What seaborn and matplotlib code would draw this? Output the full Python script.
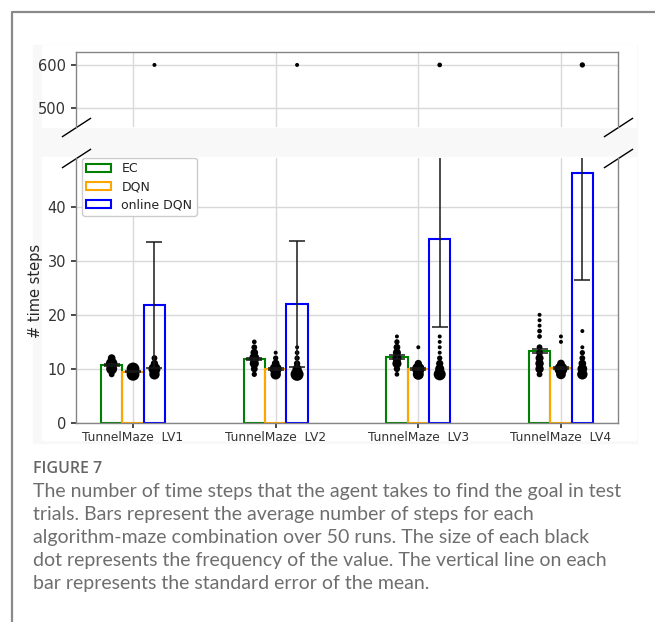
import matplotlib
matplotlib.use("Agg")
import matplotlib.pyplot as plt
from matplotlib.patches import Patch, Rectangle
from matplotlib.lines import Line2D
import numpy as np
import pandas as pd
import seaborn as sns

# --- data ---
mazes = ["TunnelMaze  LV1", "TunnelMaze  LV2", "TunnelMaze  LV3", "TunnelMaze  LV4"]
algorithms = ["EC", "DQN", "online DQN"]
algo_colors = ["green", "orange", "blue"]

# average steps (bar heights) and standard error of the mean
ec_mean = [10.7, 11.9, 12.2, 13.3]
dqn_mean = [9.5, 10.0, 10.0, 10.1]
online_mean = [21.8, 22.0, 34.0, 46.3]
ec_sem = [0.2, 0.2, 0.3, 0.35]
dqn_sem = [0.1, 0.15, 0.15, 0.2]
online_sem = [11.7, 11.7, 16.3, 19.8]

# observed step counts per run (value -> number of runs out of 50)
ec_values = [[9, 10, 11, 12],
             [9, 10, 11, 12, 13, 14, 15],
             [9, 10, 11, 12, 13, 14, 15, 16],
             [9, 10, 11, 12, 13, 14, 16, 17, 18, 19, 20]]
ec_counts = [[4, 18, 20, 8],
             [3, 6, 12, 15, 8, 4, 2],
             [2, 5, 12, 12, 9, 6, 3, 1],
             [4, 10, 10, 9, 6, 4, 2, 2, 1, 1, 1]]
dqn_values = [[9, 10],
              [9, 10, 11, 12, 13],
              [9, 10, 11, 14],
              [9, 10, 11, 15, 16]]
dqn_counts = [[25, 25],
              [16, 22, 8, 3, 1],
              [18, 24, 7, 1],
              [14, 26, 8, 1, 1]]
online_values = [[9, 10, 11, 12, 600],
                 [9, 10, 11, 12, 13, 14, 600],
                 [9, 10, 11, 12, 13, 14, 15, 16, 600],
                 [9, 10, 11, 12, 13, 14, 17, 600]]
online_counts = [[16, 22, 7, 4, 1],
                 [26, 12, 5, 3, 2, 1, 1],
                 [22, 12, 7, 3, 1, 1, 1, 1, 2],
                 [16, 14, 8, 4, 3, 1, 1, 3]]

caption_lines = [
    "The number of time steps that the agent takes to find the goal in test",
    "trials. Bars represent the average number of steps for each",
    "algorithm-maze combination over 50 runs. The size of each black",
    "dot represents the frequency of the value. The vertical line on each",
    "bar represents the standard error of the mean.",
]


def main():
    sns.set_theme(style="whitegrid", rc={
        "axes.edgecolor": "#858585",
        "axes.linewidth": 1.0,
        "grid.color": "#d9d9d9",
        "grid.linewidth": 1.0,
        "xtick.bottom": True,
        "ytick.left": True,
        "xtick.color": "#333333",
        "ytick.color": "#333333",
        "xtick.major.size": 3.5,
        "ytick.major.size": 3.5,
        "text.color": "#222222",
    })
    plt.rcParams["font.family"] = ["DejaVu Sans"]

    W, H = 655, 622
    fig = plt.figure(figsize=(W / 100, H / 100), dpi=100)
    fig.patch.set_facecolor("white")

    # light grey backdrop of the pasted chart, white panel areas
    fig.patches.append(Rectangle((33 / W, 1 - 443 / H), 604 / W, 398 / H,
                                 transform=fig.transFigure, color="#f8f8f8", zorder=-3))
    fig.patches.append(Rectangle((42 / W, 1 - 127 / H), 594 / W, 82 / H,
                                 transform=fig.transFigure, color="white", zorder=-2))
    fig.patches.append(Rectangle((42 / W, 1 - 440 / H), 594 / W, 283 / H,
                                 transform=fig.transFigure, color="white", zorder=-2))

    # outer frame of the figure box
    fig.lines.append(Line2D([12 / W, 12 / W, 1.0], [0.0, 1 - 12 / H, 1 - 12 / H],
                            transform=fig.transFigure, color="#8a8a8a", lw=1.6))

    ax_top = fig.add_axes([76 / W, 1 - 127 / H, 542 / W, 75 / H])
    ax_low = fig.add_axes([76 / W, 1 - 423 / H, 542 / W, 265 / H])

    means = [ec_mean, dqn_mean, online_mean]
    sems = [ec_sem, dqn_sem, online_sem]
    values = [ec_values, dqn_values, online_values]
    counts = [ec_counts, dqn_counts, online_counts]

    bars = pd.DataFrame({
        "maze": [m for _ in algorithms for m in mazes],
        "algorithm": [a for a in algorithms for _ in mazes],
        "steps": [v for row in means for v in row],
    })

    for ax in (ax_top, ax_low):
        ax.set_facecolor("white")
        sns.barplot(data=bars, x="maze", y="steps", hue="algorithm",
                    hue_order=algorithms, order=mazes, palette=algo_colors,
                    fill=False, width=0.45, errorbar=None, legend=False,
                    linewidth=1.5, ax=ax)
        ax.set_axisbelow(True)

        bar_groups = list(ax.containers)
        for k, container in enumerate(bar_groups):
            xs = [p.get_x() + p.get_width() / 2 for p in container.patches]
            for i, x in enumerate(xs):
                v = np.array(values[k][i])
                c = np.array(counts[k][i])
                # dot area grows with how often the value occurred
                ax.scatter(np.full(len(v), x), v, s=5 + 3.2 * c, color="black",
                           linewidths=0, zorder=3)
            ax.errorbar(xs, means[k], yerr=sems[k], fmt="none", ecolor="#1a1a1a",
                        elinewidth=1.1, capsize=6, capthick=1.1, zorder=4)

        ax.set_xlim(-0.4, 3.4)
        ax.set_xlabel("")
        ax.grid(True, axis="both")

    # upper panel: the 600-step outliers
    ax_top.set_ylim(456, 630)
    ax_top.set_yticks([500, 600])
    ax_top.spines["bottom"].set_visible(False)
    ax_top.tick_params(axis="x", bottom=False, labelbottom=False)
    ax_top.set_ylabel("")
    ax_top.tick_params(axis="y", labelsize=10.5)

    # lower panel
    ax_low.set_ylim(0, 49)
    ax_low.set_yticks([0, 10, 20, 30, 40])
    ax_low.spines["top"].set_visible(False)
    ax_low.set_ylabel("# time steps", fontsize=10.5, labelpad=3)
    ax_low.tick_params(axis="y", labelsize=10.5)
    ax_low.tick_params(axis="x", labelsize=8.8, pad=2)

    # broken-axis marks
    d = 0.65
    kw = dict(marker=[(-1, -d), (1, d)], markersize=21, linestyle="none",
              color="black", mec="black", mew=1, clip_on=False)
    ax_top.plot([0, 1], [0, 0], transform=ax_top.transAxes, **kw)
    ax_low.plot([0, 1], [1, 1], transform=ax_low.transAxes, **kw)

    handles = [Patch(facecolor="none", edgecolor=c, linewidth=1.5, label=a)
               for a, c in zip(algorithms, algo_colors)]
    ax_low.legend(handles=handles, loc="upper left", bbox_to_anchor=(6 / 542, 1.0),
                  borderaxespad=0, fontsize=9, frameon=True, edgecolor="#cccccc",
                  framealpha=1, labelspacing=0.4, handlelength=2.0, handleheight=0.7,
                  borderpad=0.35)

    # caption
    fig.text(33 / W, 1 - 469 / H, "FIGURE 7", fontsize=11.5, color="#666666",
             family="Open Sans", weight="semibold", va="center")
    for j, line in enumerate(caption_lines):
        fig.text(33 / W, 1 - (491 + 23.2 * j) / H, line, fontsize=14,
                 color="#6e6e6e", family="Lato", va="center")

    fig.savefig("out.png", dpi=100)


if __name__ == "__main__":
    main()
